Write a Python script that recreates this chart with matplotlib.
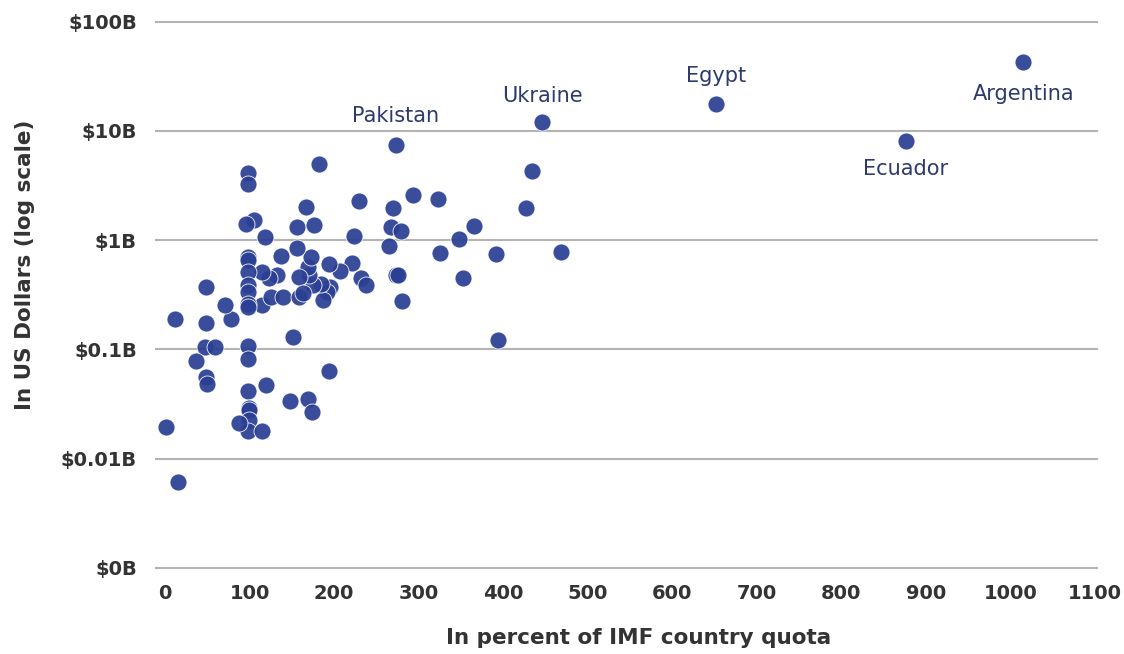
import numpy as np
import matplotlib.pyplot as plt
from matplotlib.ticker import FixedLocator, NullLocator

# percent of IMF quota, amount in billions of US dollars
quota_pct = [1015, 876, 652, 446, 273, 434, 427, 468, 392, 394,
             293, 323, 366, 348, 325, 352, 229, 270, 267, 279,
             265, 223, 273, 276, 280, 221, 207, 232, 238, 194,
             195, 192, 187, 184, 175, 170, 169, 173, 158, 156,
             137, 132, 123, 115, 115, 125, 140, 158, 163, 182,
             167, 156, 176, 118, 105, 96, 98, 98, 98, 98,
             98, 98, 98, 98, 98, 98, 98, 98, 99, 99,
             99, 98, 115, 88, 120, 148, 169, 174, 194, 151,
             47, 59, 37, 49, 50, 1, 15, 12, 49, 78,
             71, 49]
amount_bn = [42.7, 8.1, 17.6, 12.0, 7.4, 4.3, 1.96, 0.78, 0.745, 0.121,
             2.58, 2.37, 1.34, 1.02, 0.76, 0.45, 2.28, 1.96, 1.32, 1.21,
             0.88, 1.09, 0.48, 0.48, 0.276, 0.62, 0.52, 0.45, 0.387, 0.60,
             0.37, 0.334, 0.282, 0.395, 0.387, 0.478, 0.566, 0.70, 0.458, 0.845,
             0.714, 0.478, 0.449, 0.509, 0.254, 0.301, 0.301, 0.301, 0.33, 4.97,
             2.01, 1.315, 1.37, 1.065, 1.52, 1.40, 4.11, 3.26, 0.70, 0.656,
             0.509, 0.387, 0.334, 0.259, 0.243, 0.107, 0.081, 0.042, 0.029, 0.0276,
             0.0225, 0.018, 0.018, 0.021, 0.047, 0.0335, 0.035, 0.027, 0.063, 0.129,
             0.105, 0.105, 0.078, 0.0556, 0.048, 0.0194, 0.0061, 0.189, 0.174, 0.189,
             0.254, 0.371]

labels = ["Argentina", "Ecuador", "Egypt", "Ukraine", "Pakistan"]
label_pts = [(1015, 42.7), (876, 8.1), (652, 17.6), (446, 12.0), (273, 7.4)]
label_dy = [-23, -20, 20, 19, 21]

y_ticks = [0.001, 0.01, 0.1, 1, 10, 100]
y_ticklabels = ["$0B", "$0.01B", "$0.1B", "$1B", "$10B", "$100B"]
x_ticks = list(range(0, 1101, 100))

plt.rcParams['font.family'] = ['DejaVu Sans']

fig = plt.figure(figsize=(11.24, 6.54), dpi=100)
ax = fig.add_axes([0.1379, 0.1284, 0.839, 0.853])

ax.scatter(quota_pct, amount_bn, s=150, color='#2a3f94', alpha=0.93,
           edgecolor='white', linewidth=0.6, zorder=3)

ax.set_yscale('log')
ax.set_xlim(-11.8, 1103.5)
ax.set_ylim(10**-3.02, 10**2.088)

ax.yaxis.set_major_locator(FixedLocator(y_ticks))
ax.yaxis.set_minor_locator(NullLocator())
ax.set_yticklabels(y_ticklabels)
ax.set_xticks(x_ticks)
ax.set_xticklabels([str(t) for t in x_ticks])

ax.grid(axis='y', color='#b3b3b3', linewidth=1.5)
ax.set_axisbelow(True)
for s in ax.spines.values():
    s.set_visible(False)
ax.tick_params(axis='both', length=0, labelsize=14, colors='#333333')
ax.tick_params(axis='y', pad=13)
ax.tick_params(axis='x', pad=10)
for lab in ax.get_xticklabels() + ax.get_yticklabels():
    lab.set_fontweight('bold')

ax.set_xlabel("In percent of IMF country quota", fontsize=15.5, fontweight='bold',
              color='#333333')
ax.xaxis.set_label_coords(0.513, -0.104)
ax.set_ylabel("In US Dollars (log scale)", fontsize=15.5, fontweight='bold',
              color='#333333')
ax.yaxis.set_label_coords(-0.127, 0.547)

for name, (px, py), dy in zip(labels, label_pts, label_dy):
    ax.annotate(name, (px, py), xytext=(0, dy), textcoords='offset points',
                ha='center', va='center', fontsize=15, color='#2d3a6e')

fig.savefig("out.png", dpi=100)
